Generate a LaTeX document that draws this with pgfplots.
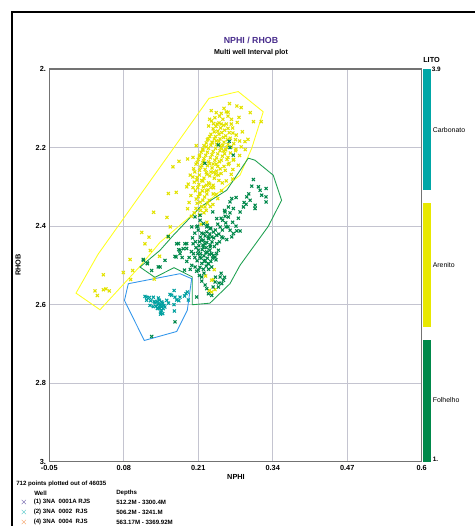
\documentclass[border=0pt]{standalone}
\usepackage{pgfplots}
\pgfplotsset{compat=1.18}
\usepackage{fontspec}
\setmainfont{Liberation Sans}
\definecolor{ptyel}{RGB}{226,226,0}
\definecolor{ptgrn}{RGB}{0,136,74}
\definecolor{ptteal}{RGB}{0,160,160}
\definecolor{polyyel}{RGB}{255,255,30}
\definecolor{polygrn}{RGB}{30,160,80}
\definecolor{polyblue}{RGB}{50,150,235}
\definecolor{cbteal}{RGB}{0,166,166}
\definecolor{cbyel}{RGB}{232,232,0}
\definecolor{cbgrn}{RGB}{0,136,74}
\definecolor{titlepurple}{RGB}{72,44,140}
\definecolor{lgpurple}{RGB}{60,40,140}
\definecolor{lgteal}{RGB}{20,180,180}
\definecolor{lgorange}{RGB}{240,128,48}
\definecolor{gridc}{RGB}{196,196,208}
\begin{document}
\begin{tikzpicture}
\useasboundingbox (0,0) rectangle (356.25pt,394.5pt);
\begin{axis}[
  at={(36.975pt,48.225pt)}, anchor=south west,
  scale only axis, width=279.3pt, height=294.5pt,
  xmin=-0.05, xmax=0.6, ymin=2, ymax=3, y dir=reverse,
  xtick={-0.05,0.08,0.21,0.34,0.47,0.6},
  xticklabels={-0.05,0.08,0.21,0.34,0.47,0.6},
  ytick={2,2.2,2.4,2.6,2.8,3},
  yticklabels={2.,2.2,2.4,2.6,2.8,3.},
  grid=major, major grid style={draw=gridc, line width=0.7pt},
  major tick length=0pt,
  axis line style={draw=black!55, line width=1pt},
  tick label style={font=\fontsize{5.5}{6}\selectfont\bfseries},
  xticklabel style={yshift=1pt},
  yticklabel style={xshift=1pt},
  mark size=1.6pt,
]
% Arenito (yellow)
\addplot[only marks, mark=x, color=ptyel, mark options={line width=0.8pt}] coordinates {
(0.2646,2.088)(0.2774,2.094)(0.2850,2.098)(0.3007,2.111)(0.3065,2.134)(0.3200,2.134)
(0.2810,2.123)(0.2589,2.109)(0.2501,2.113)(0.2414,2.111)(0.2327,2.106)(0.2298,2.128)
(0.2368,2.139)(0.2461,2.137)(0.2542,2.143)(0.2618,2.151)(0.2676,2.140)(0.2705,2.163)
(0.2763,2.168)(0.2822,2.183)(0.2915,2.185)(0.2967,2.179)(0.2850,2.198)(0.2752,2.208)
(0.2822,2.220)(0.2711,2.232)(0.2618,2.225)(0.2542,2.208)(0.2484,2.195)(0.2414,2.183)
(0.2344,2.188)(0.2275,2.177)(0.2240,2.198)(0.2181,2.207)(0.2123,2.220)(0.2065,2.195)
(0.2007,2.225)(0.2193,2.234)(0.2298,2.241)(0.2414,2.242)(0.2484,2.254)(0.2368,2.263)
(0.2251,2.268)(0.2123,2.258)(0.2019,2.254)(0.2077,2.283)(0.2181,2.285)(0.2298,2.293)
(0.2368,2.302)(0.2240,2.310)(0.2123,2.319)(0.2007,2.302)(0.1972,2.322)(0.2065,2.331)
(0.2135,2.339)(0.2216,2.351)(0.2356,2.345)(0.2414,2.319)(0.2507,2.310)(0.2589,2.285)
(0.2676,2.268)(0.2705,2.256)(0.2624,2.243)(0.1914,2.229)(0.1763,2.235)(0.1658,2.249)
(0.2007,2.275)(0.1926,2.293)(0.1717,2.314)(0.1577,2.317)(0.1914,2.356)(0.1554,2.378)
(0.1612,2.402)(0.1577,2.428)(0.1321,2.365)(0.1112,2.416)(0.1240,2.428)(0.1170,2.445)
(0.1263,2.462)(0.0909,2.485)(0.0792,2.518)(0.0955,2.513)(0.0443,2.524)(0.0298,2.565)
(0.0339,2.577)(0.0443,2.562)(0.0490,2.560)(0.0548,2.565)(0.1425,2.477)(0.1333,2.535)
(0.0920,2.536)(0.2333,2.538)(0.2292,2.564)(0.2229,2.527)(0.2379,2.511)(0.2362,2.536)
(0.2392,2.562)(0.2334,2.568)
(0.228,2.145)(0.236,2.152)(0.244,2.158)(0.251,2.162)(0.258,2.170)(0.232,2.166)
(0.240,2.172)(0.248,2.178)(0.255,2.186)(0.262,2.192)(0.226,2.180)(0.234,2.186)
(0.242,2.192)(0.250,2.200)(0.258,2.206)(0.266,2.214)(0.220,2.195)(0.228,2.202)
(0.236,2.210)(0.244,2.216)(0.252,2.222)(0.260,2.230)(0.215,2.212)(0.223,2.220)
(0.231,2.226)(0.239,2.232)(0.247,2.236)(0.255,2.248)(0.210,2.230)(0.218,2.238)
(0.226,2.246)(0.234,2.252)(0.242,2.260)(0.250,2.266)(0.206,2.242)(0.214,2.250)
(0.222,2.256)(0.230,2.272)(0.238,2.278)(0.246,2.284)(0.204,2.262)(0.212,2.270)
(0.220,2.278)(0.228,2.290)(0.236,2.296)(0.203,2.288)(0.211,2.294)(0.219,2.300)
(0.227,2.308)(0.205,2.310)(0.213,2.316)(0.221,2.326)(0.229,2.334)(0.208,2.342)
(0.216,2.350)(0.224,2.360)(0.203,2.366)(0.212,2.372)(0.243,2.140)(0.253,2.128)
(0.262,2.120)(0.270,2.150)(0.275,2.180)(0.268,2.198)(0.276,2.204)(0.272,2.230)
(0.264,2.240)(0.257,2.258)(0.245,2.270)(0.252,2.290)(0.236,2.318)(0.244,2.330)
(0.231,2.350)(0.262,2.110)(0.247,2.120)(0.255,2.100)(0.287,2.160)(0.292,2.205)
(0.280,2.245)(0.270,2.280)(0.225,2.390)(0.215,2.395)(0.198,2.375)(0.194,2.340)
(0.190,2.300)(0.196,2.270)
(0.233,2.132)(0.241,2.146)(0.249,2.150)(0.256,2.156)(0.264,2.162)(0.238,2.160)
(0.246,2.166)(0.254,2.174)(0.261,2.180)(0.230,2.172)(0.238,2.178)(0.246,2.184)
(0.253,2.194)(0.260,2.200)(0.224,2.188)(0.232,2.194)(0.240,2.202)(0.248,2.208)
(0.256,2.216)(0.218,2.204)(0.226,2.212)(0.234,2.218)(0.242,2.226)(0.250,2.232)
(0.212,2.222)(0.220,2.228)(0.228,2.236)(0.236,2.242)(0.244,2.248)(0.208,2.238)
(0.216,2.246)(0.224,2.264)(0.232,2.262)(0.240,2.268)(0.208,2.276)(0.216,2.284)
(0.224,2.296)(0.232,2.302)(0.209,2.302)(0.217,2.310)(0.225,2.318)(0.210,2.325)
(0.218,2.334)(0.226,2.342)(0.214,2.360)(0.206,2.355)(0.220,2.366)(0.266,2.176)
(0.272,2.190)(0.259,2.140)(0.250,2.140)(0.239,2.124)(0.268,2.128)(0.278,2.136)
};
% Folhelho (green)
\addplot[only marks, mark=x, color=ptgrn, mark options={line width=0.8pt}] coordinates {
(0.3063,2.2814)(0.3034,2.2984)(0.3179,2.3086)(0.3284,2.3044)(0.3208,2.3214)(0.3284,2.3256)
(0.3284,2.3384)(0.3092,2.3469)(0.3092,2.3554)(0.3005,2.3341)(0.2946,2.3256)(0.2935,2.3443)
(0.2888,2.3511)(0.2830,2.3639)(0.2760,2.3273)(0.2684,2.3298)(0.2713,2.3554)(0.2655,2.3664)
(0.2626,2.3766)(0.2568,2.3749)(0.2527,2.3851)(0.2585,2.4021)(0.2655,2.4106)(0.2713,2.4191)
(0.2771,2.4123)(0.2830,2.4123)(0.2684,2.4276)(0.2597,2.4344)(0.2510,2.4276)(0.2422,2.4234)
(0.2364,2.4149)(0.2306,2.4064)(0.2248,2.4021)(0.2190,2.3936)(0.2131,2.3851)(0.2044,2.3766)
(0.1986,2.4021)(0.2073,2.4021)(0.2190,2.4191)(0.2277,2.4276)(0.2161,2.4361)(0.2219,2.4446)
(0.2306,2.4531)(0.2335,2.4701)(0.2248,2.4659)(0.2190,2.4531)(0.2102,2.4616)(0.2131,2.4786)
(0.2219,2.4871)(0.2277,2.4956)(0.2335,2.5041)(0.2422,2.4446)(0.2452,2.4616)(0.2393,2.4786)
(0.2015,2.4701)(0.1986,2.4999)(0.2044,2.5041)(0.2102,2.5126)(0.1899,2.4446)(0.1840,2.4574)
(0.1753,2.4446)(0.1782,2.4701)(0.1712,2.4786)(0.1520,2.4871)(0.1433,2.5041)(0.1212,2.4956)
(0.1142,2.4871)(0.2481,2.5296)(0.2539,2.5381)(0.2510,2.5466)(0.2452,2.5551)(0.2393,2.5423)
(0.2248,2.5594)(0.2277,2.5721)(0.2335,2.5764)(0.2073,2.5806)(0.2161,2.5296)(0.2568,2.3639)
(0.2626,2.3511)(0.2655,2.3384)(0.2131,2.3724)(0.2353,2.3639)(0.2422,2.3809)(0.2481,2.4021)
(0.2248,2.4149)(0.2335,2.4276)
(0.210,2.410)(0.216,2.418)(0.222,2.425)(0.228,2.432)(0.234,2.440)(0.212,2.440)
(0.218,2.448)(0.224,2.455)(0.230,2.462)(0.206,2.455)(0.214,2.470)(0.220,2.476)
(0.226,2.482)(0.232,2.490)(0.208,2.488)(0.216,2.495)(0.224,2.502)(0.238,2.452)
(0.242,2.470)(0.236,2.475)(0.228,2.510)(0.220,2.520)(0.212,2.526)(0.246,2.420)
(0.252,2.410)(0.258,2.392)(0.262,2.402)(0.200,2.430)(0.204,2.418)(0.226,2.398)
(0.232,2.405)(0.204,2.480)(0.198,2.465)(0.190,2.490)(0.196,2.510)(0.186,2.512)
(0.1577,2.426)(0.1210,2.494)(0.1140,2.485)(0.1287,2.513)(0.1402,2.504)(0.1723,2.445)
(0.1781,2.462)(0.1868,2.445)(0.1898,2.457)(0.1693,2.477)
(0.2641,2.184)(0.2653,2.200)(0.2711,2.219)(0.2449,2.193)(0.2217,2.240)
(0.1694,2.644)(0.1287,2.681)
(0.209,2.400)(0.214,2.428)(0.219,2.436)(0.225,2.442)(0.231,2.448)(0.237,2.430)
(0.211,2.450)(0.217,2.460)(0.223,2.468)(0.229,2.472)(0.235,2.482)(0.209,2.470)
(0.215,2.482)(0.221,2.490)(0.227,2.496)(0.213,2.505)(0.219,2.510)(0.207,2.515)
(0.241,2.486)(0.247,2.440)(0.253,2.430)(0.240,2.410)(0.230,2.420)(0.244,2.395)
(0.250,2.380)(0.256,2.360)(0.270,2.390)(0.276,2.400)(0.280,2.380)(0.290,2.340)
(0.298,2.318)(0.315,2.300)(0.205,2.440)(0.201,2.445)(0.194,2.480)(0.182,2.480)
(0.176,2.460)(0.216,2.540)(0.222,2.550)(0.240,2.530)(0.246,2.545)(0.236,2.555)
(0.250,2.520)(0.256,2.530)
};
% Carbonato (teal)
\addplot[only marks, mark=x, color=ptteal, mark options={line width=0.8pt}] coordinates {
(0.1170,2.579)(0.1199,2.581)(0.1246,2.582)(0.1316,2.581)(0.1403,2.583)(0.1421,2.589)
(0.1461,2.593)(0.1432,2.602)(0.1461,2.606)(0.1490,2.610)(0.1444,2.619)(0.1479,2.623)
(0.1519,2.606)(0.1549,2.589)(0.1607,2.574)(0.1636,2.576)(0.1677,2.564)(0.1694,2.581)
(0.1723,2.588)(0.1781,2.581)(0.1886,2.572)(0.1910,2.568)(0.1927,2.588)(0.1677,2.600)
(0.1683,2.616)(0.1199,2.589)(0.1258,2.602)(0.1316,2.605)(0.1345,2.595)(0.1386,2.610)
(0.140,2.598)(0.145,2.600)(0.148,2.596)(0.142,2.610)(0.146,2.614)(0.150,2.602)
(0.138,2.592)(0.136,2.604)(0.144,2.624)(0.141,2.605)(0.133,2.592)(0.127,2.590)
(0.158,2.596)(0.186,2.578)(0.176,2.590)
};
% polygons
\addplot[draw=polyyel, line width=0.65pt, mark=none] coordinates {
(-0.0034,2.5707)(0.0385,2.6130)(0.1071,2.5043)(0.1432,2.4413)(0.2334,2.3291)(0.2828,2.2704)
(0.3032,2.2023)(0.3234,2.1089)(0.2798,2.0574)(0.2287,2.0747)(0.0350,2.4719)} -- cycle;
\addplot[draw=polygrn, line width=0.65pt, mark=none] coordinates {
(0.2973,2.2270)(0.3089,2.2321)(0.3409,2.2704)(0.3555,2.3342)(0.3322,2.4005)(0.2828,2.5000)
(0.2653,2.5467)(0.2304,2.5962)(0.1995,2.6003)(0.1995,2.5293)(0.1676,2.5059)(0.1344,2.5306)
(0.1083,2.5043)(0.1432,2.4617)(0.1664,2.4235)(0.2130,2.3520)(0.2596,2.3087)} -- cycle;
\addplot[draw=polyblue, line width=0.65pt, mark=none] coordinates {
(0.0879,2.5467)(0.1781,2.5212)(0.1985,2.5339)(0.1908,2.6148)(0.1723,2.6684)(0.1158,2.6913)
(0.0812,2.5893)} -- cycle;
\end{axis}
\begin{scope}[x=0.75pt,y=-0.75pt,shift={(0,394.5pt)}]
% outer frame
\draw[black, line width=1.6pt] (12,530) -- (12,12) -- (480,12);
% titles
\node[font=\fontsize{6.6}{7}\selectfont\bfseries, text=titlepurple] at (251,40) {NPHI / RHOB};
\node[font=\fontsize{5.3}{6}\selectfont\bfseries] at (251,52.5) {Multi well Interval plot};
% axis labels
\node[font=\fontsize{5.5}{6}\selectfont\bfseries, rotate=90] at (18,265) {RHOB};
\node[font=\fontsize{5.5}{6}\selectfont\bfseries] at (236,476.5) {NPHI};
% colour bar
\fill[cbteal] (423,69) rectangle (430.5,190);
\fill[cbyel] (423,203.5) rectangle (430.5,327);
\fill[cbgrn] (423,340) rectangle (430.5,462);
\node[font=\fontsize{5.5}{6}\selectfont\bfseries, anchor=west, inner sep=0pt] at (423,60) {LITO};
\node[font=\fontsize{4.8}{5}\selectfont\bfseries, anchor=west, inner sep=0pt] at (431.5,69) {3.9};
\node[font=\fontsize{4.8}{5}\selectfont\bfseries, anchor=west, inner sep=0pt] at (432.5,459) {1.};
\node[font=\fontsize{5.2}{6}\selectfont, anchor=west, inner sep=0pt] at (432.5,130) {Carbonato};
\node[font=\fontsize{5.2}{6}\selectfont, anchor=west, inner sep=0pt] at (432.5,265) {Arenito};
\node[font=\fontsize{5.2}{6}\selectfont, anchor=west, inner sep=0pt] at (432.5,400) {Folhelho};
% footer
\node[font=\fontsize{4.6}{5}\selectfont\bfseries, anchor=west, inner sep=0pt] at (16,484.3) {712 points plotted out of 46035};
\node[font=\fontsize{4.6}{5}\selectfont\bfseries, anchor=west, inner sep=0pt] at (34,493.3) {Well};
\node[font=\fontsize{4.6}{5}\selectfont\bfseries, anchor=west, inner sep=0pt] at (116,493.3) {Depths};
\node[font=\fontsize{6}{6}\selectfont, text=lgpurple, inner sep=0pt] at (24,502.3) {$\times$};
\node[font=\fontsize{6}{6}\selectfont, text=lgteal, inner sep=0pt] at (24,512.3) {$\times$};
\node[font=\fontsize{6}{6}\selectfont, text=lgorange, inner sep=0pt] at (24,522.3) {$\times$};
\node[font=\fontsize{4.6}{5}\selectfont\bfseries, anchor=west, inner sep=0pt] at (33.5,502.3) {(1) 3NA\ \ 0001A RJS};
\node[font=\fontsize{4.6}{5}\selectfont\bfseries, anchor=west, inner sep=0pt] at (33.5,512.3) {(2) 3NA\ \ 0002\ \ RJS};
\node[font=\fontsize{4.6}{5}\selectfont\bfseries, anchor=west, inner sep=0pt] at (33.5,522.3) {(4) 3NA\ \ 0004\ \ RJS};
\node[font=\fontsize{4.6}{5}\selectfont\bfseries, anchor=west, inner sep=0pt] at (116,502.3) {512.2M - 3300.4M};
\node[font=\fontsize{4.6}{5}\selectfont\bfseries, anchor=west, inner sep=0pt] at (116,512.3) {506.2M - 3241.M};
\node[font=\fontsize{4.6}{5}\selectfont\bfseries, anchor=west, inner sep=0pt] at (116,522.3) {563.17M - 3369.92M};
\end{scope}
\end{tikzpicture}
\end{document}
